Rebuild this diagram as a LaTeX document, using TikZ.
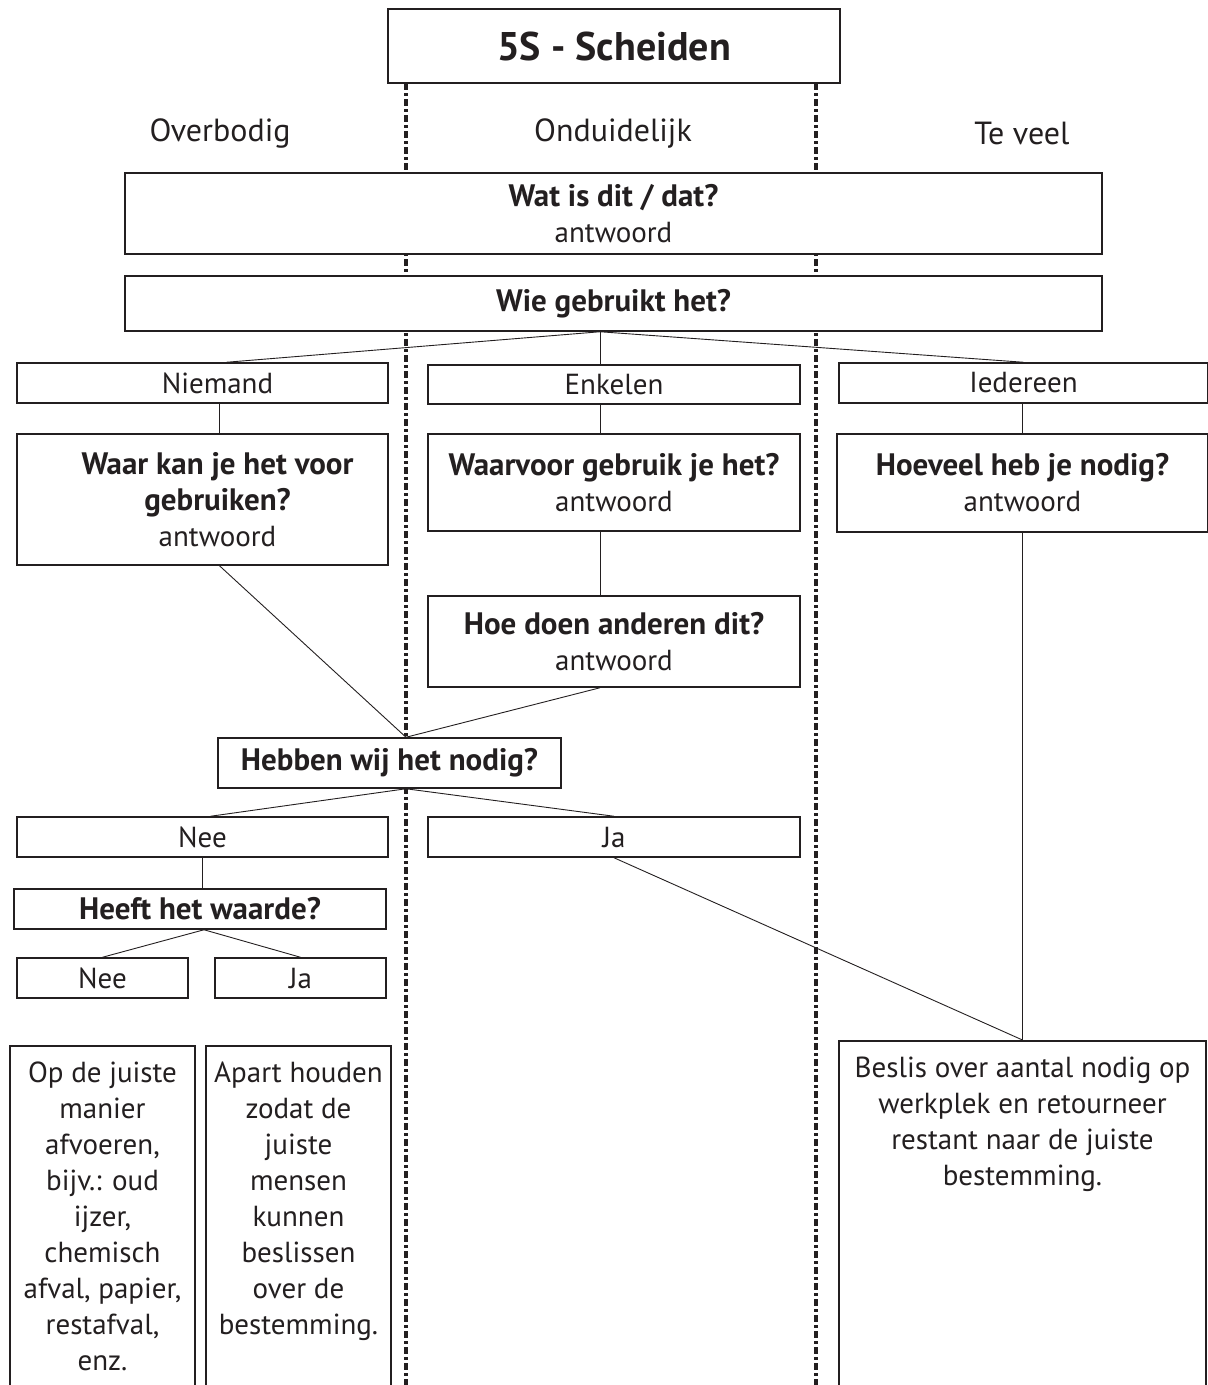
\documentclass[tikz,border=0pt]{standalone}
\usepackage{fontspec}
\setmainfont{PT Sans}
\usepackage{tikz}
\usetikzlibrary{positioning}
\definecolor{ink}{HTML}{231F20}
\newcommand{\ask}[1]{{\fontsize{31}{36}\selectfont\bfseries #1}}

\tikzset{
  box/.style={draw=ink, line width=1.5pt, fill=white, text=ink, align=center,
    inner sep=0pt, font=\fontsize{29}{36}\selectfont},
  colhead/.style={text=ink, font=\fontsize{32}{36}\selectfont},
  link/.style={draw=ink, line width=0.9pt},
  split/.style={draw=ink, line width=3.2pt, dash pattern=on 7pt off 3pt on 3pt off 3pt}
}

\begin{document}
\begin{tikzpicture}[x=1pt,y=-1pt]
            \useasboundingbox (0,0) rectangle (1208,1385);
            % column separators
            \draw[split] (406,83) -- (406,1390);
            \draw[split] (816,83) -- (816,1390);

            \node[box, minimum width=452pt, minimum height=74pt, font=\fontsize{40}{44}\selectfont\bfseries] (title) at (614,46) {5S - Scheiden};
            \node[colhead] (overbodig) at (220,133) {Overbodig};
            \node[colhead] (onduidelijk) at (613,133) {Onduidelijk};
            \node[colhead] (teveel) at (1022,133) {Te veel};

            \node[box, minimum width=977pt, minimum height=81pt] (wat) at (613.5,213.5) {\ask{Wat is dit / dat?}\\antwoord};
            \node[box, minimum width=977pt, minimum height=55pt] (wie) at (613.5,303.5) {\ask{Wie gebruikt het?}};

            \node[box, minimum width=371pt, minimum height=40pt] (niemand) at (202.5,383) {\hspace*{30pt}Niemand};
            \node[box, minimum width=372pt, minimum height=39pt] (enkelen) at (614,384.5) {Enkelen};
            \node[box, minimum width=369pt, minimum height=40pt] (iedereen) at (1023.5,383) {Iedereen};

            \node[box, minimum width=371pt, minimum height=131pt] (waarkan) at (202.5,499.5) {\hspace*{30pt}\ask{Waar kan je het voor}\\\hspace*{30pt}\ask{gebruiken?}\\\hspace*{30pt}antwoord};
            \node[box, minimum width=372pt, minimum height=97pt] (waarvoor) at (614,482.5) {\ask{Waarvoor gebruik je het?}\\antwoord};
            \node[box, minimum width=371pt, minimum height=98pt] (hoeveel) at (1022.5,483) {\ask{Hoeveel heb je nodig?}\\antwoord};
            \node[box, minimum width=372pt, minimum height=91pt] (hoedoen) at (614,641.5) {\ask{Hoe doen anderen dit?}\\antwoord};

            \node[box, minimum width=343pt, minimum height=50pt] (hebben) at (389.5,763) {\ask{Hebben wij het nodig?}};
            \node[box, minimum width=371pt, minimum height=40pt] (nee) at (202.5,837) {Nee};
            \node[box, minimum width=372pt, minimum height=40pt] (ja) at (614,837) {Ja};
            \node[box, minimum width=372pt, minimum height=40pt] (heeft) at (200,909) {\ask{Heeft het waarde?}};
            \node[box, minimum width=171pt, minimum height=40pt] (nee2) at (102.5,978) {Nee};
            \node[box, minimum width=171pt, minimum height=40pt] (ja2) at (300.5,978) {Ja};

            \node[box, anchor=north, inner ysep=12pt] (afvoeren) at (102.5,1045) {\parbox[t][330pt][t]{185pt}{\centering\strut Op de juiste\\manier\\afvoeren,\\bijv.: oud\\ijzer,\\chemisch\\afval, papier,\\restafval,\\enz.}};
            \node[box, anchor=north, inner ysep=12pt] (apart) at (298.5,1045) {\parbox[t][330pt][t]{185pt}{\centering\strut Apart houden\\zodat de\\juiste\\mensen\\kunnen\\beslissen\\over de\\bestemming.}};
            \node[box, anchor=north, inner ysep=12pt] (beslis) at (1022.5,1040) {\parbox[t][330pt][t]{367pt}{\centering\strut Beslis over aantal nodig op\\werkplek en retourneer\\restant naar de juiste\\bestemming.}};

            % connectors
            \coordinate (hub) at ([xshift=-13.5pt]wie.south);
            \coordinate (meet) at ([xshift=16.5pt]hebben.north);
            \coordinate (fork) at ([xshift=16.5pt]hebben.south);
            \draw[link] (hub) -- ([xshift=24pt]niemand.north);
            \draw[link] (hub) -- (hub |- enkelen.north);
            \draw[link] (hub) -- (iedereen.north);
            \draw[link] ([xshift=17pt]niemand.south) -- ([xshift=17pt]waarkan.north);
            \draw[link] (enkelen.south -| hub) -- (waarvoor.north -| hub);
            \draw[link] (iedereen.south -| hoeveel.north) -- (hoeveel.north);
            \draw[link] (waarvoor.south -| hub) -- (hoedoen.north -| hub);
            \draw[link] ([xshift=17pt]waarkan.south) -- (meet);
            \draw[link] (hoedoen.south -| hub) -- (meet);
            \draw[link] (fork) -- ([xshift=8pt]nee.north);
            \draw[link] (fork) -- (ja.north);
            \draw[link] (nee.south) -- (nee.south |- heeft.north);
            \draw[link] ([xshift=4pt]heeft.south) -- (nee2.north);
            \draw[link] ([xshift=4pt]heeft.south) -- (ja2.north);
            \draw[link] (ja.south) -- (beslis.north);
            \draw[link] (hoeveel.south) -- (beslis.north);
        \end{tikzpicture}
\end{document}
